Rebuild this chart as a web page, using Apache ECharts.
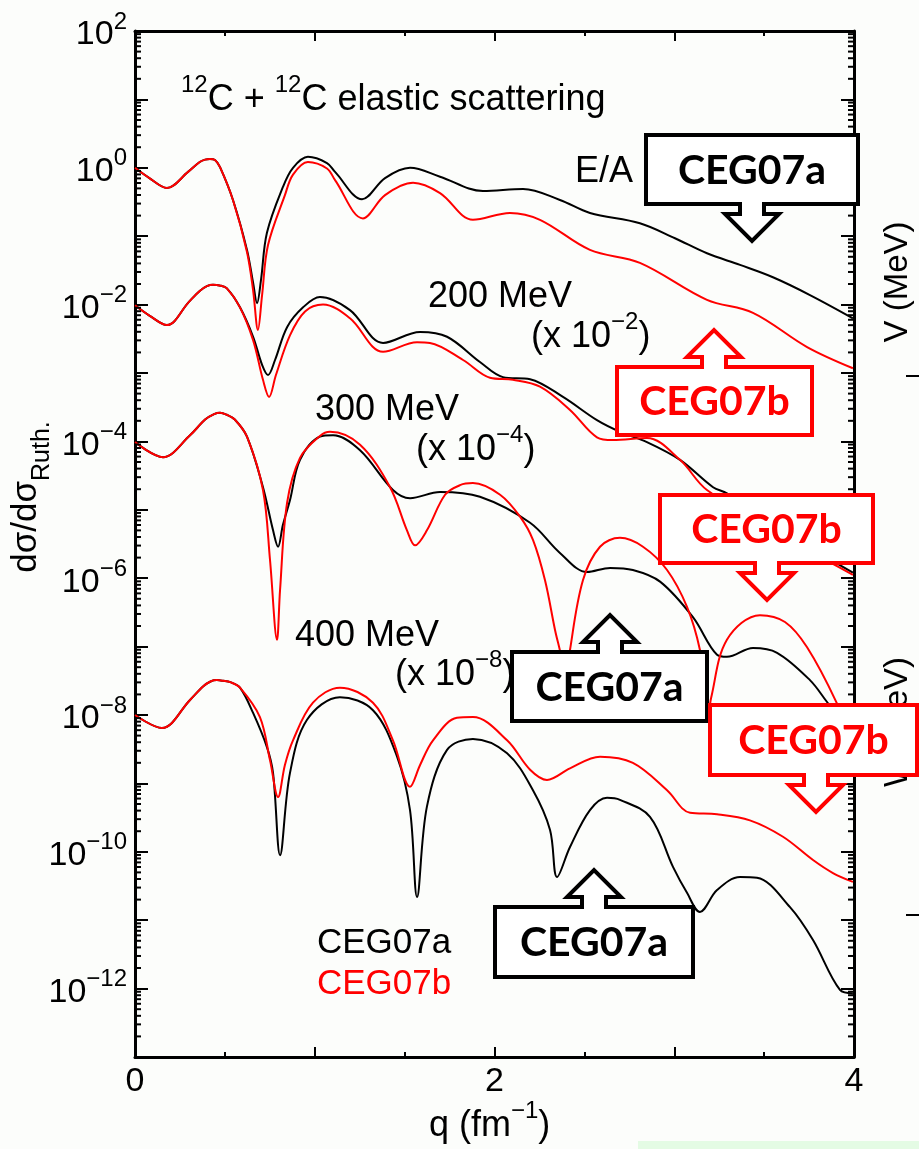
<!DOCTYPE html>
<html>
<head>
<meta charset="utf-8">
<script src="https://cdn.jsdelivr.net/npm/echarts@6/dist/echarts.min.js"></script>
<style>
html, body { margin: 0; padding: 0; background: #fcfdfb; }
#main { width: 919px; height: 1149px; }
</style>
</head>
<body>
<div id="main"></div>
<script>
// values are [q (fm^-1), log10(dsigma/dsigma_Ruth, already scaled)]
var curve100a = [[0,0],[0.08,-0.15],[0.178,-0.295],[0.295,-0.06],[0.36,0.085],[0.39,0.12],[0.417,0.13],[0.445,0.115],[0.473,0.01],[0.545,-0.47],[0.623,-1.2],[0.657,-1.68],[0.679,-1.98],[0.701,-1.64],[0.734,-0.95],[0.823,-0.28],[0.879,0.0],[0.962,0.16],[1.068,0.07],[1.113,-0.06],[1.263,-0.46],[1.391,-0.15],[1.53,0.0],[1.697,-0.13],[1.936,-0.34],[2.159,-0.31],[2.364,-0.47],[2.531,-0.66],[2.809,-0.81],[3.004,-1.03],[3.182,-1.25],[3.366,-1.42],[3.549,-1.6],[3.755,-1.86],[3.994,-2.2]];
var curve100b = [[0,0],[0.08,-0.15],[0.178,-0.295],[0.295,-0.06],[0.36,0.085],[0.39,0.12],[0.417,0.13],[0.445,0.115],[0.473,0.01],[0.545,-0.47],[0.623,-1.23],[0.657,-1.79],[0.684,-2.37],[0.707,-1.86],[0.74,-1.13],[0.834,-0.4],[0.879,-0.1],[0.962,0.085],[1.068,-0.01],[1.113,-0.18],[1.268,-0.74],[1.391,-0.4],[1.547,-0.22],[1.697,-0.37],[1.88,-0.76],[2.086,-0.66],[2.253,-0.76],[2.531,-1.2],[2.809,-1.39],[3.182,-1.93],[3.438,-2.12],[3.739,-2.62],[3.994,-2.93]];
var curve200a = [[0,-2.01],[0.08,-2.16],[0.178,-2.3],[0.3,-1.96],[0.36,-1.8],[0.4,-1.73],[0.434,-1.71],[0.47,-1.72],[0.51,-1.76],[0.584,-2.04],[0.657,-2.47],[0.707,-2.88],[0.74,-3.03],[0.779,-2.81],[0.846,-2.33],[0.935,-2.04],[1.029,-1.89],[1.196,-2.08],[1.38,-2.56],[1.586,-2.4],[1.736,-2.47],[1.919,-2.84],[2.047,-3.06],[2.198,-3.09],[2.381,-3.35],[2.57,-3.69],[2.698,-3.86],[2.848,-4.01],[3.032,-4.27],[3.216,-4.67],[3.293,-4.76],[3.644,-5.37],[3.994,-5.92]];
var curve200b = [[0,-2.01],[0.08,-2.16],[0.178,-2.3],[0.3,-1.96],[0.36,-1.8],[0.4,-1.73],[0.434,-1.71],[0.47,-1.72],[0.51,-1.76],[0.584,-2.04],[0.657,-2.52],[0.712,-3.1],[0.746,-3.35],[0.784,-3.03],[0.862,-2.45],[0.946,-2.1],[1.046,-2.0],[1.196,-2.2],[1.38,-2.69],[1.569,-2.55],[1.641,-2.56],[1.825,-2.81],[1.975,-3.07],[2.103,-3.1],[2.253,-3.2],[2.42,-3.54],[2.57,-3.94],[2.659,-3.98],[2.848,-3.95],[3.032,-4.27],[3.182,-4.71],[3.644,-5.44],[3.994,-5.95]];
var curve300a = [[0,-4.01],[0.156,-4.23],[0.306,-3.91],[0.39,-3.68],[0.44,-3.6],[0.473,-3.58],[0.51,-3.61],[0.555,-3.68],[0.623,-3.93],[0.712,-4.67],[0.768,-5.3],[0.796,-5.54],[0.823,-5.22],[0.862,-4.86],[0.918,-4.27],[1.029,-3.93],[1.102,-3.91],[1.252,-4.13],[1.435,-4.71],[1.53,-4.83],[1.697,-4.74],[1.919,-4.81],[2.198,-5.19],[2.364,-5.63],[2.515,-5.91],[2.643,-5.85],[2.77,-5.88],[2.921,-6.05],[3.104,-6.57],[3.238,-7.12],[3.293,-7.15],[3.438,-7.02],[3.572,-7.09],[3.755,-7.49],[3.85,-7.81],[3.994,-8.3]];
var curve300b = [[0,-4.01],[0.156,-4.23],[0.306,-3.91],[0.39,-3.68],[0.44,-3.6],[0.473,-3.58],[0.51,-3.61],[0.555,-3.68],[0.623,-3.93],[0.712,-4.71],[0.751,-5.73],[0.79,-6.9],[0.807,-6.17],[0.846,-4.9],[0.918,-4.24],[1.029,-3.92],[1.085,-3.86],[1.252,-4.05],[1.419,-4.67],[1.513,-5.3],[1.558,-5.52],[1.624,-5.3],[1.725,-4.78],[1.808,-4.64],[1.88,-4.61],[2.031,-4.78],[2.142,-5.1],[2.214,-5.44],[2.281,-6.03],[2.337,-6.76],[2.375,-7.2],[2.392,-7.64],[2.42,-7.05],[2.492,-6.03],[2.587,-5.54],[2.698,-5.41],[2.826,-5.54],[2.96,-5.88],[3.071,-6.42],[3.143,-7.05],[3.175,-7.7],[3.19,-8.0],[3.205,-7.75],[3.293,-6.9],[3.477,-6.54],[3.616,-6.64],[3.739,-7.01],[3.905,-7.83],[3.994,-8.44]];
var curve400a = [[0,-8.0],[0.15,-8.19],[0.306,-7.78],[0.38,-7.58],[0.42,-7.51],[0.456,-7.49],[0.49,-7.5],[0.53,-7.52],[0.584,-7.6],[0.657,-7.97],[0.734,-8.47],[0.768,-8.85],[0.807,-10.05],[0.862,-8.85],[0.957,-8.07],[1.14,-7.74],[1.324,-7.93],[1.458,-8.61],[1.53,-9.39],[1.569,-10.66],[1.624,-9.34],[1.736,-8.51],[1.88,-8.35],[2.07,-8.56],[2.214,-9.1],[2.309,-9.68],[2.348,-10.37],[2.42,-9.93],[2.531,-9.39],[2.626,-9.21],[2.698,-9.24],[2.865,-9.49],[2.993,-10.22],[3.071,-10.6],[3.143,-10.88],[3.238,-10.56],[3.366,-10.37],[3.46,-10.38],[3.644,-10.81],[3.772,-11.29],[3.922,-12.02],[3.994,-12.07]];
var curve400b = [[0,-8.0],[0.15,-8.19],[0.306,-7.78],[0.38,-7.58],[0.42,-7.51],[0.456,-7.49],[0.49,-7.5],[0.53,-7.52],[0.584,-7.6],[0.695,-8.03],[0.751,-8.66],[0.796,-9.2],[0.834,-8.73],[0.879,-8.37],[0.99,-7.82],[1.14,-7.6],[1.324,-7.82],[1.435,-8.37],[1.53,-9.05],[1.586,-8.73],[1.658,-8.37],[1.791,-8.04],[1.88,-8.03],[2.07,-8.37],[2.198,-8.8],[2.292,-8.95],[2.42,-8.78],[2.587,-8.61],[2.77,-8.7],[2.96,-9.1],[3.088,-9.43],[3.238,-9.45],[3.421,-9.54],[3.605,-9.78],[3.772,-10.12],[3.883,-10.31],[3.994,-10.44]];

var xTickLabels = [0, 2, 4];
var yLabelExps = [2, 0, -2, -4, -6, -8, -10, -12];

var F = '"Liberation Sans", Arial, sans-serif';
var BOLD = 'Lato, "Open Sans", sans-serif';

function expText(n) {
    return n < 0 ? '\u2212' + (-n) : String(n);
}

var supRich = {
    b: { fontSize: 34, fontFamily: F, color: '#000', lineHeight: 42, verticalAlign: 'bottom' },
    s: { fontSize: 24, fontFamily: F, color: '#000', verticalAlign: 'top' }
};

function xAxisCfg(pos) {
    return {
        type: 'value', position: pos, min: 0, max: 4, interval: 1,
        axisLine: { onZero: false, lineStyle: { color: '#000', width: 3 } },
        axisTick: { inside: true, length: 10, lineStyle: { color: '#000', width: 2 } },
        minorTick: { show: true, splitNumber: 2, length: 5, lineStyle: { color: '#000', width: 2 } },
        splitLine: { show: false },
        axisLabel: {
            show: pos === 'bottom', margin: 8, fontSize: 34, fontFamily: F, color: '#000',
            showMinLabel: true, showMaxLabel: true,
            formatter: function (v) { return xTickLabels.indexOf(v) >= 0 ? String(v) : ''; }
        }
    };
}

function yAxisCfg(pos) {
    return {
        type: 'value', position: pos, min: -13, max: 2, interval: 1,
        axisLine: { onZero: false, lineStyle: { color: '#000', width: 3 } },
        axisTick: { inside: true, length: 13, lineStyle: { color: '#000', width: 2 } },
        splitLine: { show: false },
        axisLabel: {
            show: pos === 'left', margin: 8, showMinLabel: true, showMaxLabel: true,
            formatter: function (v) {
                if (yLabelExps.indexOf(v) < 0) return '';
                return '{b|10}{s|' + expText(v) + '}';
            },
            rich: supRich
        }
    };
}

function line(name, data, color) {
    return {
        name: name, type: 'line', data: data, showSymbol: false, smooth: 0.35,
        lineStyle: { color: color, width: 2 }, itemStyle: { color: color },
        z: color === '#ff0000' ? 3 : 2
    };
}

var chart = echarts.init(document.getElementById('main'));
chart.setOption({
    backgroundColor: '#fcfdfb',
    animation: false,
    grid: { left: 135, right: 65, top: 31, bottom: 92 },
    xAxis: [xAxisCfg('bottom'), xAxisCfg('top')],
    yAxis: [yAxisCfg('left'), yAxisCfg('right')],
    series: [
        line('CEG07a 100', curve100a, '#000'),
        line('CEG07a 200', curve200a, '#000'),
        line('CEG07a 300', curve300a, '#000'),
        line('CEG07a 400', curve400a, '#000'),
        line('CEG07b 100', curve100b, '#ff0000'),
        line('CEG07b 200', curve200b, '#ff0000'),
        line('CEG07b 300', curve300b, '#ff0000'),
        line('CEG07b 400', curve400b, '#ff0000')
    ]
});

// log sub-ticks (2..9 in each decade), both sides
var gx0 = chart.convertToPixel({ xAxisIndex: 0 }, 0);
var gx1 = chart.convertToPixel({ xAxisIndex: 0 }, 4);
var els = [];
for (var n = -13; n < 2; n++) {
    for (var k = 2; k < 10; k++) {
        var py = chart.convertToPixel({ yAxisIndex: 0 }, n + Math.log10(k));
        els.push({ type: 'line', shape: { x1: gx0, y1: py, x2: gx0 + 6, y2: py }, style: { stroke: '#000', lineWidth: 2 }, z: 5 });
        els.push({ type: 'line', shape: { x1: gx1, y1: py, x2: gx1 - 6, y2: py }, style: { stroke: '#000', lineWidth: 2 }, z: 5 });
    }
}

function txt(text, x, y, opt) {
    opt = opt || {};
    return {
        type: 'text', x: x, y: y, rotation: opt.rotation || 0, z: opt.z || 50,
        style: {
            text: text, fill: opt.color || '#000', align: opt.align || 'left', verticalAlign: 'middle',
            font: (opt.weight || 'normal') + ' ' + (opt.size || 36) + 'px ' + (opt.family || F),
            rich: opt.rich
        }
    };
}

var annRich = {
    b: { fontSize: 36, fontFamily: F, color: '#000', lineHeight: 45, verticalAlign: 'bottom' },
    s: { fontSize: 24, fontFamily: F, color: '#000', verticalAlign: 'top' }
};
var subRich = {
    a: { fontSize: 35, fontFamily: F, color: '#000', lineHeight: 46, verticalAlign: 'top' },
    r: { fontSize: 25, fontFamily: F, color: '#000', verticalAlign: 'bottom' }
};

els.push(txt('{s|12}{b|C + }{s|12}{b|C elastic scattering}', 181, 96, { rich: annRich }));
els.push(txt('E/A =', 575, 172));
els.push(txt('200 MeV', 428, 297));
els.push(txt('{b|(x 10}{s|\u22122}{b|)}', 531, 333, { rich: annRich }));
els.push(txt('300 MeV', 315, 410));
els.push(txt('{b|(x 10}{s|\u22124}{b|)}', 416, 446, { rich: annRich }));
els.push(txt('400 MeV', 295, 636));
els.push(txt('{b|(x 10}{s|\u22128}{b|)}', 395, 671, { rich: annRich }));
els.push(txt('CEG07a', 317, 943, { size: 35 }));
els.push(txt('CEG07b', 317, 984, { size: 35, color: '#ff0000' }));
els.push(txt('{a|d\u03c3/d\u03c3}{r|Ruth.}', 32, 497, { rotation: Math.PI / 2, align: 'center', rich: subRich }));
els.push(txt('{b|q (fm}{s|\u22121}{b|)}', 429, 1122, { rich: annRich }));
els.push(txt('V (MeV)', 898, 282, { rotation: Math.PI / 2, align: 'center', size: 33 }));
els.push(txt('W (MeV)', 898, 722, { rotation: Math.PI / 2, align: 'center', size: 33 }));
els.push({ type: 'line', shape: { x1: 906, y1: 376, x2: 919, y2: 376 }, style: { stroke: '#000', lineWidth: 2 }, z: 5 });
els.push({ type: 'line', shape: { x1: 906, y1: 915, x2: 919, y2: 915 }, style: { stroke: '#000', lineWidth: 2 }, z: 5 });
els.push({ type: 'rect', shape: { x: 638, y: 1141, width: 281, height: 8 }, style: { fill: '#e4fbe4' }, z: 5 });

// arrow callout boxes
function callout(x0, y0, x1, y1, cx, dir, color, label) {
    var sw = 12, hw = 27, sl = 10, hl = 27, pts;
    if (dir === 'down') {
        pts = [[x0, y0], [x1, y0], [x1, y1], [cx + sw, y1], [cx + sw, y1 + sl], [cx + hw, y1 + sl],
            [cx, y1 + sl + hl], [cx - hw, y1 + sl], [cx - sw, y1 + sl], [cx - sw, y1], [x0, y1]];
    } else {
        pts = [[x0, y1], [x0, y0], [cx - sw, y0], [cx - sw, y0 - sl], [cx - hw, y0 - sl], [cx, y0 - sl - hl],
            [cx + hw, y0 - sl], [cx + sw, y0 - sl], [cx + sw, y0], [x1, y0], [x1, y1]];
    }
    els.push({ type: 'polygon', shape: { points: pts }, style: { fill: '#fff', stroke: color, lineWidth: 4, lineJoin: 'miter' }, z: 100 });
    els.push(txt(label, (x0 + x1) / 2, (y0 + y1) / 2 + 1, { align: 'center', size: 41, weight: 'bold', family: BOLD, color: color, z: 101 }));
}
callout(646, 135, 858, 204, 752, 'down', '#000', 'CEG07a');
callout(617, 367, 812, 435, 714, 'up', '#ff0000', 'CEG07b');
callout(660, 495, 873, 563, 767, 'down', '#ff0000', 'CEG07b');
callout(512, 652, 707, 721, 610, 'up', '#000', 'CEG07a');
callout(710, 705, 917, 775, 816, 'down', '#ff0000', 'CEG07b');
callout(495, 907, 693, 977, 594, 'up', '#000', 'CEG07a');

chart.setOption({ graphic: els });
</script>
</body>
</html>
